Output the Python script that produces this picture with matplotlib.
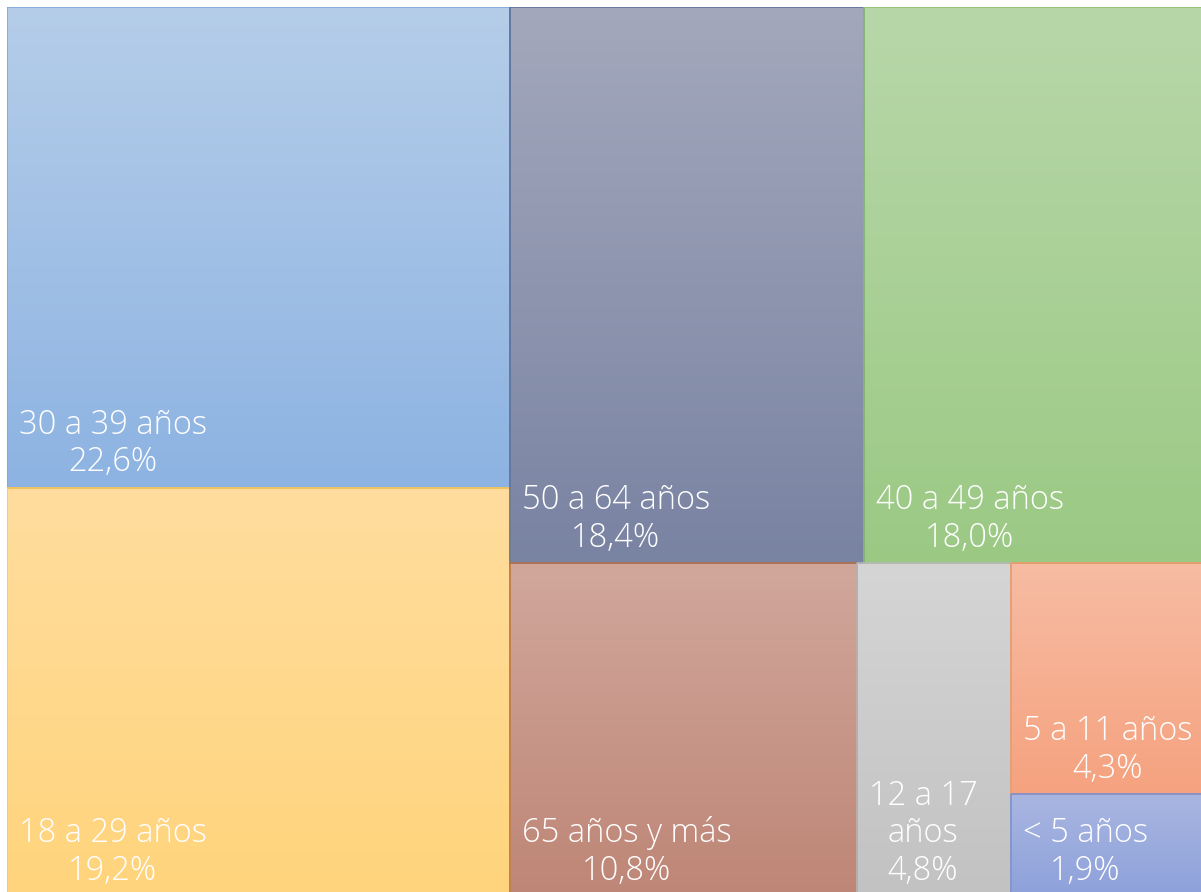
import numpy as np
import matplotlib
matplotlib.use("Agg")
import matplotlib.pyplot as plt
from matplotlib.patches import Rectangle
from matplotlib.colors import to_rgb

# ---- data ----
labels = ["30 a 39 años", "18 a 29 años", "50 a 64 años", "40 a 49 años",
          "65 años y más", "12 a 17\naños", "5 a 11 años", "< 5 años"]
values = [22.6, 19.2, 18.4, 18.0, 10.8, 4.8, 4.3, 1.9]
pct_text = ["22,6%", "19,2%", "18,4%", "18,0%", "10,8%", "4,8%", "4,3%", "1,9%"]

# ---- style ----
top_colors = ["#B5CDE9", "#FFDD9E", "#A3A8BC", "#B8D7A9", "#D1A79C", "#D5D5D5", "#F7BCA3", "#A9B6E1"]
bot_colors = ["#8DB3E2", "#FFD47C", "#7983A2", "#9BC984", "#BE8676", "#C2C2C2", "#F5A27F", "#8DA1DA"]
edge_colors = ["#7FA7D8", "#FFC84A", "#5F6F98", "#8DC070", "#B8734F", "#B9B9B9", "#EE9A6C", "#7A91D2"]
# strips: (number of items, orientation) in a slice layout
strips = [(2, "col"), (2, "row"), (1, "col"), (1, "col"), (2, "col")]

W, H = 1203.0, 889.0


def layout(vals, strips, W, H):
    rects = []
    x, y, w, h = 0.0, 0.0, W, H
    i = 0
    for n, orient in strips:
        sv = vals[i:i + n]
        s = sum(sv)
        rem = sum(vals[i:])
        frac = s / rem
        if orient == "col":
            sw = w * frac
            yy = y
            for v in sv:
                hh = h * v / s
                rects.append((x, yy, sw, hh))
                yy += hh
            x += sw
            w -= sw
        else:
            sh = h * frac
            xx = x
            for v in sv:
                ww = w * v / s
                rects.append((xx, y, ww, sh))
                xx += ww
            y += sh
            h -= sh
        i += n
    return rects


rects = layout(values, strips, W, H)

fig = plt.figure(figsize=(12.01, 8.92), dpi=100)
ax = fig.add_axes([7 / 1201, -4 / 892, W / 1201, H / 892])
ax.set_xlim(0, W)
ax.set_ylim(H, 0)
ax.axis("off")

for (x, y, w, h), lab, p, tc, bc, ec in zip(rects, labels, pct_text, top_colors, bot_colors, edge_colors):
    t = np.array(to_rgb(tc))
    b = np.array(to_rgb(bc))
    grad = np.linspace(0, 1, 256)[:, None, None]
    img = t[None, None, :] * (1 - grad) + b[None, None, :] * grad
    ax.imshow(img, extent=(x, x + w, y + h, y), aspect="auto", interpolation="bilinear", zorder=1)
    ax.add_patch(Rectangle((x, y), w, h, facecolor="none", edgecolor=ec, linewidth=1.2, zorder=2))
    ax.annotate(lab + "\n" + p, xy=(x, y + h), xytext=(8.5, 6), textcoords="offset points",
                ha="left", va="bottom", multialignment="center", color="white",
                fontsize=23.5, family="Open Sans", fontweight="light", linespacing=1.15, zorder=3)

ax.set_xlim(0, W)
ax.set_ylim(H, 0)
fig.savefig("out.png", dpi=100)
